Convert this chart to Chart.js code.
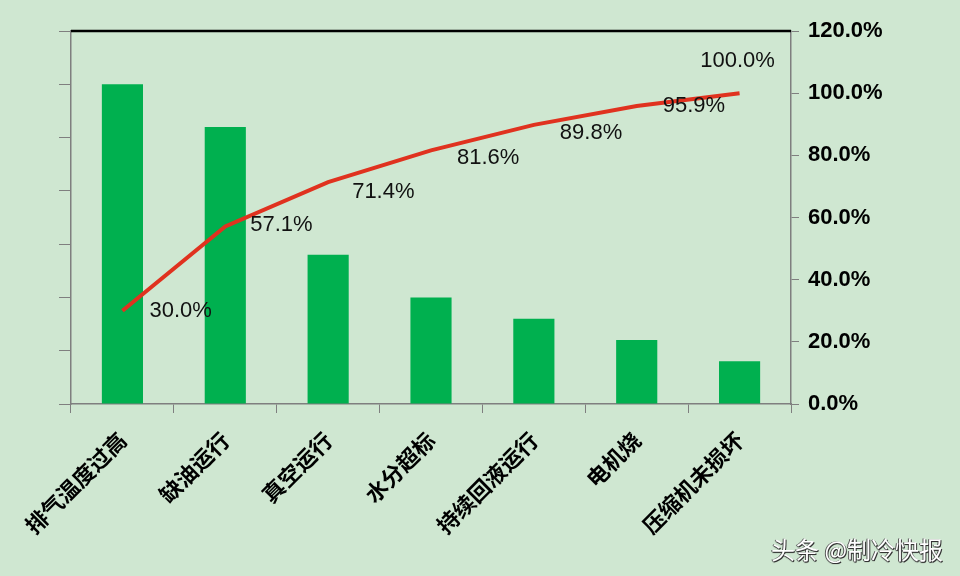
<!DOCTYPE html>
<html>
<head>
<meta charset="utf-8">
<script src="https://cdn.jsdelivr.net/npm/chart.js@4.4.0/dist/chart.umd.min.js"></script>
<style>
  html, body { margin: 0; padding: 0; background: #cfe7d1; }
  #wrap { position: relative; width: 960px; height: 576px; background: #cfe7d1; }
  #wm { position: absolute; left: 771px; top: 531px; font: 24px "Noto Sans CJK SC", sans-serif; color: #ffffff;
        text-shadow: 1px 1px 0 #333, -1px 0 0 #555, 0 1px 1px #333; white-space: nowrap; }
</style>
</head>
<body>
<div id="wrap">
  <canvas id="c" width="960" height="576"></canvas>
  <div id="wm">头条 @制冷快报</div>
</div>
<script>
// ---- data ----
const categories = ['排气温度过高', '缺油运行', '真空运行', '水分超标', '持续回液运行', '电机烧', '压缩机未损坏'];
const barValues = [6.0, 5.2, 2.8, 2.0, 1.6, 1.2, 0.8];
const cumulativePercent = [0.300, 0.571, 0.714, 0.816, 0.898, 0.959, 1.000];
const leftAxisMax = 7;
const leftAxisStep = 1;
const rightAxisMax = 1.2;
const rightAxisStep = 0.2;

const fmtPct = v => (v * 100).toFixed(1) + '%';

// Plugin: black top border + point labels
const extras = {
  id: 'extras',
  afterDatasetsDraw(chart, args, opts) {
    const ctx = chart.ctx;
    const a = chart.chartArea;
    ctx.save();
    ctx.strokeStyle = '#000000';
    ctx.lineWidth = 2.5;
    ctx.beginPath();
    ctx.moveTo(a.left, a.top);
    ctx.lineTo(a.right, a.top);
    ctx.stroke();

    const meta = chart.getDatasetMeta(1);
    ctx.font = '22px "Liberation Sans", Arial, sans-serif';
    ctx.fillStyle = '#111111';
    ctx.textBaseline = 'middle';
    meta.data.forEach((pt, i) => {
      const txt = fmtPct(cumulativePercent[i]);
      const off = opts.offsets[i];
      ctx.textAlign = off.above ? 'center' : 'left';
      ctx.fillText(txt, pt.x + off.dx, pt.y + off.dy);
    });
    ctx.restore();
  }
};

const axisGrey = '#7f7f7f';

new Chart(document.getElementById('c'), {
  type: 'bar',
  data: {
    labels: categories,
    datasets: [
      {
        type: 'bar',
        data: barValues,
        backgroundColor: '#00b04f',
        borderWidth: 0,
        barPercentage: 0.4,
        categoryPercentage: 1.0,
        yAxisID: 'y',
        order: 2
      },
      {
        type: 'line',
        data: cumulativePercent,
        borderColor: '#e0321f',
        borderWidth: 4,
        pointRadius: 0,
        tension: 0,
        fill: false,
        yAxisID: 'y1',
        order: 1
      }
    ]
  },
  options: {
    responsive: false,
    animation: false,
    layout: { padding: { top: 31, left: 0, right: 0, bottom: 0 } },
    plugins: {
      legend: { display: false },
      tooltip: { enabled: false },
      extras: {
        offsets: [
          { dx: 27, dy: 0 },
          { dx: 25, dy: -2 },
          { dx: 24, dy: 10 },
          { dx: 26, dy: 8 },
          { dx: 26, dy: 8 },
          { dx: 26, dy: 0 },
          { dx: -2, dy: -32, above: true }
        ]
      }
    },
    scales: {
      x: {
        offset: true,
        grid: { display: true, drawOnChartArea: false, drawTicks: true, tickLength: 9, color: axisGrey, offset: true },
        border: { display: true, color: axisGrey, width: 1.5 },
        ticks: {
          autoSkip: false,
          minRotation: 45,
          maxRotation: 45,
          padding: 14,
          color: '#000000',
          font: { family: '"Noto Sans CJK SC", sans-serif', size: 22, weight: 'bold' }
        },
        afterFit(scale) { scale.height = 172; }
      },
      y: {
        position: 'left',
        min: 0,
        max: leftAxisMax,
        grid: { display: true, drawOnChartArea: false, drawTicks: true, tickLength: 12, color: axisGrey },
        border: { display: true, color: axisGrey, width: 1.5 },
        ticks: { stepSize: leftAxisStep, callback: () => '', padding: 0 },
        afterFit(scale) { scale.width = 71; }
      },
      y1: {
        position: 'right',
        min: 0,
        max: rightAxisMax,
        grid: { display: true, drawOnChartArea: false, drawTicks: true, tickLength: 8, color: axisGrey },
        border: { display: true, color: axisGrey, width: 1.5 },
        ticks: {
          stepSize: rightAxisStep,
          padding: 9,
          color: '#000000',
          font: { family: '"Liberation Sans", Arial, sans-serif', size: 22, weight: 'bold' },
          callback: v => fmtPct(v)
        },
        afterFit(scale) { scale.width = 169; }
      }
    }
  },
  plugins: [extras]
});
</script>
</body>
</html>
